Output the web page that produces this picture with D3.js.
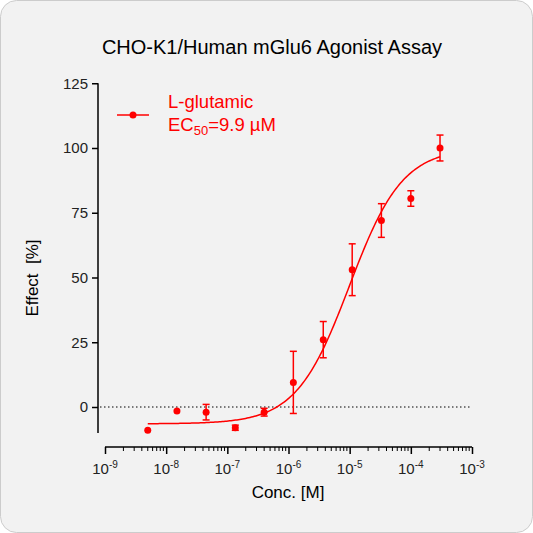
<!DOCTYPE html>
<html><head><meta charset="utf-8">
<script src="https://cdn.jsdelivr.net/npm/d3@7"></script>
<style>body{margin:0;background:#fff}svg{font-family:Arial,"Liberation Sans",sans-serif}</style>
</head><body>
<svg id="chart" width="533" height="533"></svg>
<script>
var concs = [5e-9, 1.5e-8, 4.5e-8, 1.35e-7, 4e-7, 1.2e-6, 3.7e-6, 1.1e-5, 3.3e-5, 1e-4, 3e-4];
var effects = [-9, -1.5, -2, -8, -2, 9.5, 26, 53, 72, 80.5, 100];
var errors = [0, 0, 3, 1, 1.5, 12, 7, 10, 6.5, 3, 5];
var fitParams = { bottom: -6.5, top: 100, ec50: 9.9e-6, hill: 1 };
var yTicks = [0, 25, 50, 75, 100, 125];
var xTicks = [1e-9, 1e-8, 1e-7, 1e-6, 1e-5, 1e-4, 1e-3];

var red = "#ff0000",
	svg = d3.select("#chart");

svg.append("rect").attr("x", 0.5).attr("y", 0.5).attr("width", 532).attr("height", 532)
	.attr("rx", 16).attr("fill", "#f2f2f2").attr("stroke", "#cccccc");

var x = d3.scaleLog().domain([1e-9, 1e-3]).range([105, 472]),
	y = d3.scaleLinear().domain([0, 100]).range([407, 148]);

svg.append("text").attr("x", 272).attr("y", 54).attr("text-anchor", "middle")
	.attr("font-size", 20).text("CHO-K1/Human mGlu6 Agonist Assay");

// y axis
var yAxis = svg.append("g").attr("transform", "translate(98,0)")
	.call(d3.axisLeft(y).tickValues(yTicks).tickSize(6).tickPadding(4));
yAxis.select(".domain").attr("d", "M0," + y(125) + "V" + y(-10));
yAxis.selectAll("text").attr("font-size", 15).attr("fill", "#222");
yAxis.selectAll("line,path").attr("stroke", "#000").attr("stroke-width", 1.5);

// x axis
var xAxis = svg.append("g").attr("transform", "translate(0,447)")
	.call(d3.axisBottom(x).tickValues(xTicks).tickSize(7).tickFormat(""));
xAxis.selectAll("line,path").attr("stroke", "#000").attr("stroke-width", 1.5);
xAxis.select(".domain").attr("d", "M" + x(1e-9) + ",0H" + x(1e-3));
var minor = [];
for (var e = -9; e < -3; e++) for (var m = 2; m < 10; m++) minor.push(m * Math.pow(10, e));
xAxis.selectAll(".minor").data(minor).enter().append("line")
	.attr("x1", function(d) { return x(d); }).attr("x2", function(d) { return x(d); })
	.attr("y1", 0).attr("y2", 4).attr("stroke", "#000").attr("stroke-width", 1);
var lbl = svg.selectAll(".xl").data(xTicks).enter().append("text")
	.attr("x", function(d) { return x(d); }).attr("y", 474).attr("text-anchor", "middle")
	.attr("font-size", 15).attr("fill", "#222");
lbl.append("tspan").text("10");
lbl.append("tspan").attr("dy", -6).attr("font-size", 10)
	.text(function(d) { return "-" + Math.round(-Math.log10(d)); });

svg.append("text").attr("x", 288).attr("y", 498).attr("text-anchor", "middle")
	.attr("font-size", 17).text("Conc. [M]");
svg.append("text").attr("transform", "translate(38,278) rotate(-90)").attr("text-anchor", "middle")
	.attr("font-size", 17).text("Effect\u00a0\u00a0[%]");

// zero line
svg.append("line").attr("x1", 100).attr("x2", 470).attr("y1", y(0)).attr("y2", y(0))
	.attr("stroke", "#000").attr("stroke-dasharray", "1.5,2.5");

// fit curve
function fit(c) {
	return fitParams.bottom + (fitParams.top - fitParams.bottom) / (1 + Math.pow(fitParams.ec50 / c, fitParams.hill));
}
var curve = d3.range(0, 201).map(function(i) {
	return Math.pow(10, Math.log10(concs[0]) + i / 200 * (Math.log10(concs[concs.length - 1]) - Math.log10(concs[0])));
});
svg.append("path").datum(curve).attr("fill", "none").attr("stroke", red).attr("stroke-width", 1.5)
	.attr("d", d3.line().x(function(d) { return x(d); }).y(function(d) { return y(fit(d)); }));

// error bars and points
var pts = svg.selectAll(".pt").data(concs).enter().append("g");
pts.filter(function(d, i) { return errors[i] > 0; }).each(function(d) {
	var j = concs.indexOf(d), g = d3.select(this), cx = x(d),
		y1 = y(effects[j] + errors[j]), y2 = y(effects[j] - errors[j]);
	g.append("line").attr("x1", cx).attr("x2", cx).attr("y1", y1).attr("y2", y2);
	g.append("line").attr("x1", cx - 3.5).attr("x2", cx + 3.5).attr("y1", y1).attr("y2", y1);
	g.append("line").attr("x1", cx - 3.5).attr("x2", cx + 3.5).attr("y1", y2).attr("y2", y2);
	g.selectAll("line").attr("stroke", red).attr("stroke-width", 1.5);
});
pts.append("circle").attr("cx", function(d) { return x(d); })
	.attr("cy", function(d, i) { return y(effects[i]); }).attr("r", 3.5).attr("fill", red);

// legend
svg.append("line").attr("x1", 117).attr("x2", 149).attr("y1", 115).attr("y2", 115)
	.attr("stroke", red).attr("stroke-width", 1.5);
svg.append("circle").attr("cx", 133).attr("cy", 115).attr("r", 3.5).attr("fill", red);
svg.append("text").attr("x", 168).attr("y", 108).attr("font-size", 18.5).attr("fill", red).text("L-glutamic");
var ec = svg.append("text").attr("x", 168).attr("y", 131).attr("font-size", 18.5).attr("fill", red);
ec.append("tspan").text("EC");
ec.append("tspan").attr("dy", 4).attr("font-size", 13).text("50");
ec.append("tspan").attr("dy", -4).text("=9.9 µM");
</script>
</body></html>
